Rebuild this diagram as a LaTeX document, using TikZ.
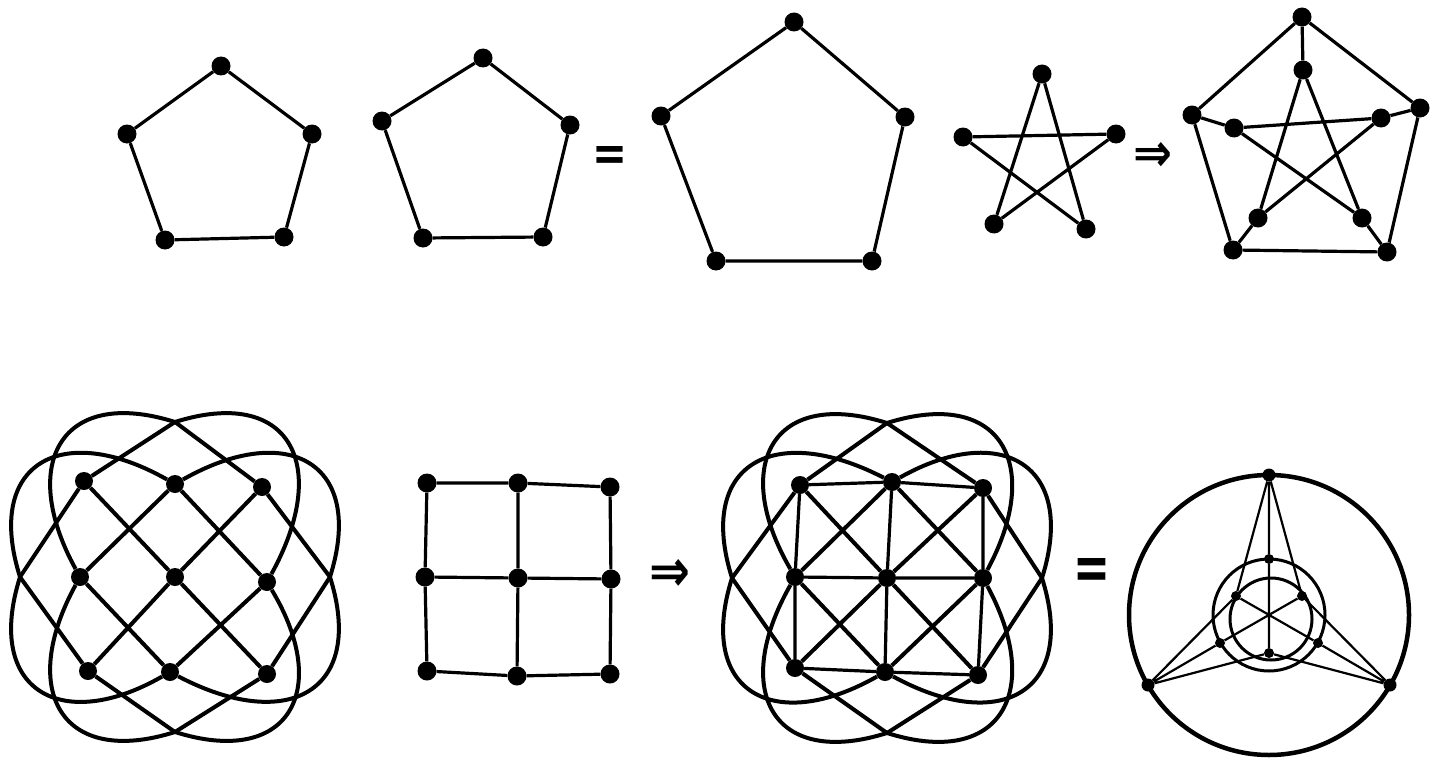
\documentclass[tikz,border=0pt]{standalone}
\usepackage{tikz}
\usepackage{graphicx}
\usepackage{fontspec}
\newfontfamily\symfont{DejaVu Sans}
\begin{document}
\begin{tikzpicture}[x=1pt,y=-1pt,
  vx/.style={circle,fill=black,inner sep=0pt,minimum size=19pt},
  vb/.style={circle,fill=black,inner sep=0pt,minimum size=18pt},
  vs/.style={circle,fill=black,inner sep=0pt,minimum size=10pt},
  ed/.style={line width=3.2pt},
  lp/.style={line width=4pt,line join=round},
  fine/.style={line width=2.2pt},
  sym/.style={inner sep=0pt,font=\symfont\bfseries}]
\fill[white] (0,0) rectangle (1443,760);
\useasboundingbox (0,0) rectangle (1443,760);
% top row
\node[vx] (pa0) at (221,66) {};
\node[vx] (pa1) at (312,134) {};
\node[vx] (pa2) at (284,237) {};
\node[vx] (pa3) at (165,240) {};
\node[vx] (pa4) at (127,134) {};
\draw[ed] (pa0)--(pa1)--(pa2)--(pa3)--(pa4)--(pa0);
\node[vx] (pb0) at (483,58) {};
\node[vx] (pb1) at (570,125) {};
\node[vx] (pb2) at (543,237) {};
\node[vx] (pb3) at (423,238) {};
\node[vx] (pb4) at (382,121) {};
\draw[ed] (pb0)--(pb1)--(pb2)--(pb3)--(pb4)--(pb0);
\node[sym] (eq1) at (610,158) {\resizebox{35pt}{24pt}{=}};
\node[vx] (pc0) at (794,22) {};
\node[vx] (pc1) at (905,117) {};
\node[vx] (pc2) at (872,261) {};
\node[vx] (pc3) at (716,261) {};
\node[vx] (pc4) at (661,116) {};
\draw[ed] (pc0)--(pc1)--(pc2)--(pc3)--(pc4)--(pc0);
\node[vx] (st0) at (1042,74) {};
\node[vx] (st1) at (1116,134) {};
\node[vx] (st2) at (1086,229) {};
\node[vx] (st3) at (994,224) {};
\node[vx] (st4) at (963,137) {};
\draw[ed] (st0)--(st2)--(st4)--(st1)--(st3)--(st0);
\node[sym] (im1) at (1153,157) {\resizebox{39pt}{29pt}{⇒}};
\node[vx] (po0) at (1302,17) {};
\node[vx] (po1) at (1420,108) {};
\node[vx] (po2) at (1387,252) {};
\node[vx] (po3) at (1233,250) {};
\node[vx] (po4) at (1192,115) {};
\node[vx] (pi0) at (1303,70) {};
\node[vx] (pi1) at (1381,118) {};
\node[vx] (pi2) at (1362,218) {};
\node[vx] (pi3) at (1258,218) {};
\node[vx] (pi4) at (1234,128) {};
\draw[ed] (po0)--(po1)--(po2)--(po3)--(po4)--(po0);
\draw[ed] (pi0)--(pi2)--(pi4)--(pi1)--(pi3)--(pi0);
\foreach \i in {0,...,4}
  \draw[ed] (po\i)--(pi\i);
% bottom row
\node[vb] (ta-tl) at (84,481) {};
\node[vb] (ta-tm) at (175,484) {};
\node[vb] (ta-tr) at (262,487) {};
\node[vb] (ta-ml) at (80,577) {};
\node[vb] (ta-c) at (175,577) {};
\node[vb] (ta-mr) at (267,582) {};
\node[vb] (ta-bl) at (88,671) {};
\node[vb] (ta-bm) at (170,672) {};
\node[vb] (ta-br) at (267,674) {};
\node[vx] (gb-tl) at (427,483) {};
\node[vx] (gb-tm) at (518,483) {};
\node[vx] (gb-tr) at (610,487) {};
\node[vx] (gb-ml) at (425,577) {};
\node[vx] (gb-c) at (518,578) {};
\node[vx] (gb-mr) at (611,579) {};
\node[vx] (gb-bl) at (427,671) {};
\node[vx] (gb-bm) at (517,676) {};
\node[vx] (gb-br) at (610,674) {};
\node[sym] (im2) at (670,575) {\resizebox{41pt}{32pt}{⇒}};
\node[vb] (tc-tl) at (800,485) {};
\node[vb] (tc-tm) at (892,482) {};
\node[vb] (tc-tr) at (983,488) {};
\node[vb] (tc-ml) at (795,577) {};
\node[vb] (tc-c) at (887,578) {};
\node[vb] (tc-mr) at (983,578) {};
\node[vb] (tc-bl) at (795,668) {};
\node[vb] (tc-bm) at (885,672) {};
\node[vb] (tc-br) at (978,675) {};
\node[sym] (eq2) at (1092,574) {\resizebox{37pt}{31pt}{=}};
\foreach \f/\cx/\cy in {ta/175/577,tc/887/578}{
  \foreach \p/\q/\w/\r in {tm/mr/bl/0,ml/tm/br/90,bm/ml/tr/180,mr/bm/tl/270}
    \draw[lp,shift={(\cx,\cy)},rotate=\r,yscale=-1] (\f-\p) .. controls (-113,157) and (-191,114) .. (-155,0) -- (\f-\w) -- (0,-155) .. controls (114,-191) and (157,-113) .. (\f-\q) -- (\f-\p);
  \draw[lp] (\f-tl)--(\f-c)--(\f-br);
  \draw[lp] (\f-tr)--(\f-c)--(\f-bl);
}
\foreach \f in {gb,tc}{
  \draw[ed] (\f-tl)--(\f-tm)--(\f-tr);
  \draw[ed] (\f-ml)--(\f-c)--(\f-mr);
  \draw[ed] (\f-bl)--(\f-bm)--(\f-br);
  \draw[ed] (\f-tl)--(\f-ml)--(\f-bl);
  \draw[ed] (\f-tm)--(\f-c)--(\f-bm);
  \draw[ed] (\f-tr)--(\f-mr)--(\f-br);
}
\coordinate (dc) at (1269,615);
\coordinate (dk) at (1271,619);
\node[vs,minimum size=13pt] (co0) at (1269,475) {};
\node[vs,minimum size=13pt] (co1) at (1148,685) {};
\node[vs,minimum size=13pt] (co2) at (1390,685) {};
\node[vs] (cm0) at (1269,559) {};
\node[vs] (cm1) at (1220,643) {};
\node[vs] (cm2) at (1318,643) {};
\node[vs] (ci0) at (1236,596) {};
\node[vs] (ci1) at (1302,596) {};
\node[vs] (ci2) at (1269,653) {};
\draw[line width=4.5pt] (dc) circle (140);
\draw[line width=3pt] (dc) circle (56);
\draw[line width=3pt] (dk) circle (41);
\draw[fine] (co0)--(cm0) (co0)--(ci0) (co0)--(ci1);
\draw[fine] (co1)--(cm1) (co1)--(ci0) (co1)--(ci2);
\draw[fine] (co2)--(cm2) (co2)--(ci1) (co2)--(ci2);
\draw[fine] (cm0)--(ci2) (cm1)--(ci1) (cm2)--(ci0);
\end{tikzpicture}
\end{document}
